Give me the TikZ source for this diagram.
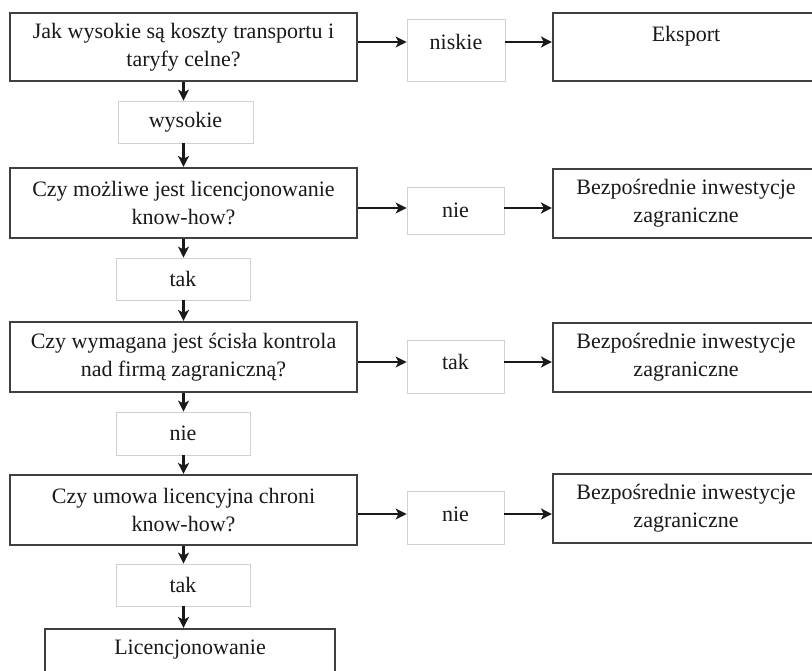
\documentclass[tikz,border=0pt]{standalone}
\usepackage{fontspec}
\setmainfont{Liberation Serif}
\usetikzlibrary{arrows.meta}
\begin{document}
\begin{tikzpicture}[x=1pt,y=-1pt,
  every node/.style={font=\fontsize{22}{28}\selectfont, text=black!90},
  mainbox/.style={draw=black!75, line width=2.2pt, rectangle, inner sep=0pt, align=center},
  lblbox/.style={draw=black!18, line width=0.8pt, rectangle, inner sep=0pt, align=center},
  txt/.style={inner sep=0pt, align=center},
  arr/.style={line width=2.4pt, draw=black!90, -{Stealth[length=11pt,width=11pt,inset=3pt]}}]
\useasboundingbox (0,0) rectangle (812,671);
\fill[white] (0,0) rectangle (812,671);
% row coordinates for horizontal connectors
\coordinate (r1) at (0,42);
\coordinate (r2) at (0,208);
\coordinate (r3) at (0,362);
\coordinate (r4) at (0,514);
% row 1
\node[mainbox, minimum width=347pt, minimum height=68pt] (q1) at (183.5,47) {Jak wysokie są koszty transportu i\\taryfy celne?};
\node[lblbox, minimum width=98pt, minimum height=62pt] (l1) at (456,50) {};
\node[txt] (l1t) at (456,42) {niskie};
\node[mainbox, minimum width=266pt, minimum height=68pt] (e1) at (686,47) {};
\node[txt] (e1t) at (686,36) {Eksport};
\draw[arr] (q1.east |- r1) -- (l1.west |- r1);
\draw[arr] (l1.east |- r1) -- (e1.west |- r1);
\node[lblbox, minimum width=135pt, minimum height=42pt] (w1) at (185.5,122) {wysokie};
\draw[arr] (q1.south) -- (q1.south |- w1.north);
% row 2
\node[mainbox, minimum width=347pt, minimum height=70pt] (q2) at (183.5,203) {Czy możliwe jest licencjonowanie\\know-how?};
\draw[arr] (q1.south |- w1.south) -- (q2.north);
\node[lblbox, minimum width=97pt, minimum height=47pt] (l2) at (455.5,210.5) {nie};
\node[mainbox, minimum width=266pt, minimum height=69pt] (b1) at (686,203.5) {Bezpośrednie inwestycje\\zagraniczne};
\draw[arr] (q2.east |- r2) -- (l2.west |- r2);
\draw[arr] (l2.east |- r2) -- (b1.west |- r2);
\node[lblbox, minimum width=134pt, minimum height=42pt] (t1) at (183,279) {tak};
\draw[arr] (q2.south) -- (q2.south |- t1.north);
% row 3
\node[mainbox, minimum width=347pt, minimum height=70pt] (q3) at (183.5,357) {Czy wymagana jest ścisła kontrola\\nad firmą zagraniczną?};
\draw[arr] (q2.south |- t1.south) -- (q3.north);
\node[lblbox, minimum width=97pt, minimum height=53pt] (l3) at (455.5,366.5) {};
\node[txt] (l3t) at (455.5,362) {tak};
\node[mainbox, minimum width=266pt, minimum height=69pt] (b2) at (686,357.5) {Bezpośrednie inwestycje\\zagraniczne};
\draw[arr] (q3.east |- r3) -- (l3.west |- r3);
\draw[arr] (l3.east |- r3) -- (b2.west |- r3);
\node[lblbox, minimum width=134pt, minimum height=43pt] (n1) at (183,433.5) {nie};
\draw[arr] (q3.south) -- (q3.south |- n1.north);
% row 4
\node[mainbox, minimum width=347pt, minimum height=70pt] (q4) at (183.5,510) {Czy umowa licencyjna chroni\\know-how?};
\draw[arr] (q3.south |- n1.south) -- (q4.north);
\node[lblbox, minimum width=97pt, minimum height=53pt] (l4) at (455.5,517.5) {};
\node[txt] (l4t) at (455.5,514) {nie};
\node[mainbox, minimum width=266pt, minimum height=69pt] (b3) at (686,508.5) {Bezpośrednie inwestycje\\zagraniczne};
\draw[arr] (q4.east |- r4) -- (l4.west |- r4);
\draw[arr] (l4.east |- r4) -- (b3.west |- r4);
\node[lblbox, minimum width=134pt, minimum height=42pt] (t2) at (183,585) {tak};
\draw[arr] (q4.south) -- (q4.south |- t2.north);
% final
\node[mainbox, minimum width=290pt, minimum height=84pt] (lic) at (190,671) {};
\node[txt] (lict) at (190,650) {Licencjonowanie};
\draw[arr] (q4.south |- t2.south) -- (q4.south |- lic.north);
\end{tikzpicture}
\end{document}
